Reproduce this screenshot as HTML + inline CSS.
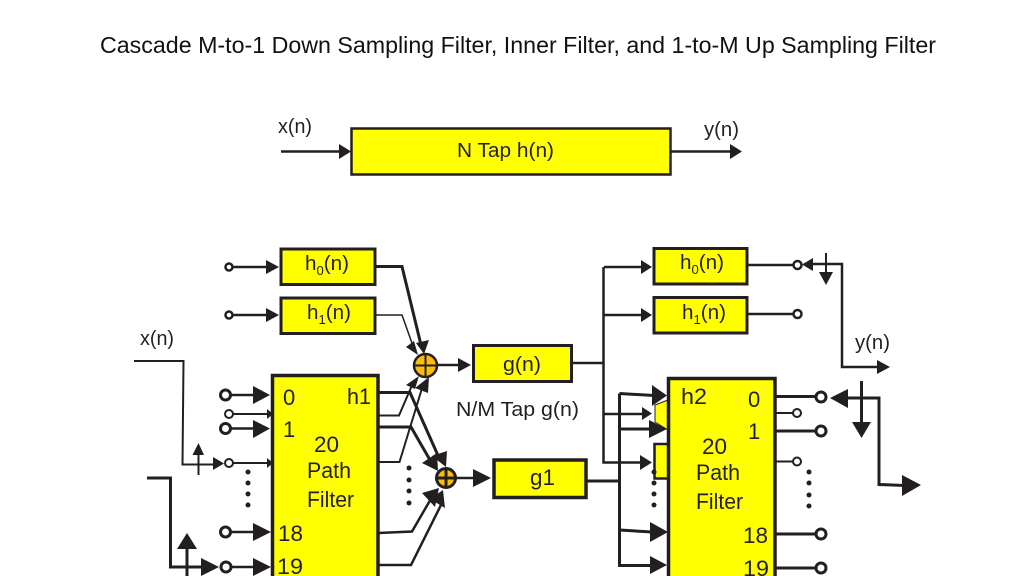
<!DOCTYPE html>
<html><head><meta charset="utf-8"><style>
html,body{margin:0;padding:0;background:#fff;width:1024px;height:576px;overflow:hidden}
svg{display:block}
.t{font-family:"Liberation Sans",sans-serif;font-size:22px;fill:#231f20}
.s{font-size:20.500px}
.r{fill:#ffff00;stroke:#231f20}
.l{fill:none;stroke:#231f20;stroke-linejoin:miter}
.a{fill:#231f20}
.c{fill:#fff;stroke:#231f20}
.d{fill:#231f20}
</style></head><body>
<svg width="1024" height="576" viewBox="0 0 1024 576" xmlns="http://www.w3.org/2000/svg">
<text x="100" y="53" font-family="Liberation Sans, sans-serif" font-size="23.500" fill="#111" textLength="836" lengthAdjust="spacingAndGlyphs">Cascade M-to-1 Down Sampling Filter, Inner Filter, and 1-to-M Up Sampling Filter</text>

<!-- top -->
<rect class="r" x="351.500" y="128.500" width="319" height="46" stroke-width="2.500"/>
<path class="l" stroke-width="2.500" d="M281 151.500H340M671 151.500H731"/>
<polygon class="a" points="339,144 351,151.500 339,159"/>
<polygon class="a" points="730,144 742,151.500 730,159"/>
<text class="t s" x="278" y="133" textLength="34" lengthAdjust="spacingAndGlyphs">x(n)</text>
<text class="t s" x="704" y="136" textLength="35" lengthAdjust="spacingAndGlyphs">y(n)</text>
<text class="t s" x="457" y="157" textLength="97" lengthAdjust="spacingAndGlyphs">N Tap h(n)</text>

<!-- left h0,h1 -->
<rect class="r" x="281" y="249" width="94" height="35.500" stroke-width="3"/>
<rect class="r" x="281" y="298" width="94" height="35.500" stroke-width="3"/>
<text class="t s" x="305" y="270" textLength="44" lengthAdjust="spacingAndGlyphs">h<tspan font-size="13" dy="5">0</tspan><tspan dy="-5">(n)</tspan></text>
<text class="t s" x="307" y="319" textLength="44" lengthAdjust="spacingAndGlyphs">h<tspan font-size="13" dy="5">1</tspan><tspan dy="-5">(n)</tspan></text>
<path class="l" stroke-width="2.500" d="M232 267H267M232 315H267"/>
<polygon class="a" points="266,260 279,267 266,274"/>
<polygon class="a" points="266,308 279,315 266,322"/>
<circle class="c" cx="229" cy="267" r="3.500" stroke-width="2.500"/>
<circle class="c" cx="229" cy="315" r="3.500" stroke-width="2.500"/>
<path class="l" stroke-width="3" d="M375 266.500H402L421 345"/>
<path class="l" stroke-width="1.500" d="M375 315H402L413 346"/>
<polygon class="a" points="406,347 414,341 418,355"/>
<polygon class="a" points="416,343 429,340 424,354"/>

<!-- left block -->
<rect class="r" x="272.500" y="375.500" width="105.500" height="220" stroke-width="3.500"/>
<text class="t" x="283" y="405">0</text>
<text class="t" x="283" y="437">1</text>
<text class="t" x="347" y="404" textLength="24" lengthAdjust="spacingAndGlyphs">h1</text>
<text class="t" x="314" y="452" textLength="25" lengthAdjust="spacingAndGlyphs">20</text>
<text class="t" x="307" y="478" textLength="44" lengthAdjust="spacingAndGlyphs">Path</text>
<text class="t" x="307" y="507" textLength="47" lengthAdjust="spacingAndGlyphs">Filter</text>
<text class="t" x="278" y="541" textLength="25" lengthAdjust="spacingAndGlyphs">18</text>
<text class="t" x="277" y="574" textLength="26" lengthAdjust="spacingAndGlyphs">19</text>

<!-- left inputs -->
<path class="l" stroke-width="2.500" d="M229 395H255M229 428.500H255M229 532H255M229 567H255"/>
<path class="l" stroke-width="2" d="M232 414H268M232 463H268"/>
<polygon class="a" points="253,386 270,395 253,404"/>
<polygon class="a" points="253,420 270,428.500 253,438"/>
<polygon class="a" points="253,523 271,532 253,541"/>
<polygon class="a" points="253,558 271,567 253,576"/>
<polygon class="a" points="267,409 273,414 267,419"/>
<polygon class="a" points="267,458 273,463 267,468"/>
<circle class="c" cx="225.500" cy="395" r="5" stroke-width="3"/>
<circle class="c" cx="229" cy="414" r="4" stroke-width="2"/>
<circle class="c" cx="225.500" cy="428.500" r="5" stroke-width="3"/>
<circle class="c" cx="229" cy="463" r="4" stroke-width="2"/>
<circle class="c" cx="225.500" cy="532" r="5" stroke-width="3"/>
<circle class="c" cx="226" cy="567" r="5" stroke-width="3"/>
<circle class="d" cx="248" cy="472" r="2.500"/><circle class="d" cx="248" cy="483" r="2.500"/><circle class="d" cx="248" cy="494" r="2.500"/><circle class="d" cx="248" cy="505" r="2.500"/>
<text class="t s" x="140" y="345" textLength="34" lengthAdjust="spacingAndGlyphs">x(n)</text>
<path class="l" stroke-width="2" d="M134 361H183.500L182.500 464.500H215"/>
<polygon class="a" points="213,457 224,463.500 213,470"/>
<path class="l" stroke-width="2" d="M198.500 475V450"/>
<polygon class="a" points="198.500,443 204,455 192.500,455"/>
<path class="l" stroke-width="3" d="M147 478H170.500V567H204"/>
<polygon class="a" points="201,558 219,567 201,576"/>
<path class="l" stroke-width="3" d="M187 576V545"/>
<polygon class="a" points="187,533 197,549 177,549"/>

<!-- left outputs -->
<path class="l" stroke-width="3" d="M379 392.500H410L440 460"/>
<path class="l" stroke-width="2" d="M379 415.500H399L413 383"/>
<path class="l" stroke-width="3" d="M379 427H411L430 460"/>
<path class="l" stroke-width="2" d="M379 462H399.500L423 385"/>
<path class="l" stroke-width="2.500" d="M379 533L412 531.500L432 497"/>
<path class="l" stroke-width="2.500" d="M379 565H411L441 505"/>
<polygon class="a" points="406,385 419,376 415,389"/>
<polygon class="a" points="415,388 429,377 428,393"/>
<polygon class="a" points="422,463 437,453 438,471"/>
<polygon class="a" points="432,456 447,451 446,467"/>
<polygon class="a" points="422,493 439,488 435,507"/>
<polygon class="a" points="430,499 443,490 445,508"/>
<circle class="d" cx="409" cy="468" r="2.500"/><circle class="d" cx="409" cy="480" r="2.500"/><circle class="d" cx="409" cy="491" r="2.500"/><circle class="d" cx="409" cy="503" r="2.500"/>

<!-- sums -->
<circle cx="425.500" cy="365.500" r="11.500" fill="#fcbc0c" stroke="#231f20" stroke-width="2.500"/>
<path class="l" stroke-width="2" d="M414 365.500H437M425.500 354V377"/>
<circle cx="446" cy="478" r="9.500" fill="#fcbc0c" stroke="#231f20" stroke-width="3"/>
<path class="l" stroke-width="3" d="M438 478H454M446 470V486"/>

<path class="l" stroke-width="2.500" d="M437 365H460"/>
<polygon class="a" points="458,358 471,365 458,372"/>
<path class="l" stroke-width="2.500" d="M456 478H475"/>
<polygon class="a" points="473,469 491,478 473,487"/>

<rect class="r" x="473.500" y="345.500" width="98" height="36" stroke-width="3"/>
<text class="t s" x="503" y="371" textLength="38" lengthAdjust="spacingAndGlyphs">g(n)</text>
<text class="t s" x="456" y="416" textLength="123" lengthAdjust="spacingAndGlyphs">N/M Tap g(n)</text>
<rect class="r" x="494" y="460" width="92" height="37.500" stroke-width="3.500"/>
<text class="t" x="530" y="485" textLength="25" lengthAdjust="spacingAndGlyphs">g1</text>

<!-- hidden yellow bits -->
<polygon points="668,400 655,405 655,422 668,430" fill="#ffff00" stroke="#231f20" stroke-width="1"/>
<rect x="654.500" y="444" width="14" height="34.500" fill="#ffff00" stroke="#231f20" stroke-width="2.500"/>

<!-- right bus -->
<path class="l" stroke-width="2.500" d="M572 363H603.500M603.500 267V462.500H643M604 267H642M604 315H642M604 414H643"/>
<polygon class="a" points="641,260 652,267 641,274"/>
<polygon class="a" points="641,308 652,315 641,322"/>
<polygon class="a" points="642,407 652,413.500 642,420"/>
<polygon class="a" points="640,455 652,462.500 640,470"/>

<path class="l" stroke-width="3" d="M587 481H619.500M619.500 393.500V565.500H652M619.500 393.500L654 395.500M619.500 429H652M619.500 530L652 532"/>
<polygon class="a" points="652,385 667,395.500 652,406"/>
<polygon class="a" points="649,420 667,429 649,438"/>
<polygon class="a" points="650,522 668,532 650,542"/>
<polygon class="a" points="650,556 667,565 650,574"/>
<circle class="d" cx="654" cy="472" r="2.500"/><circle class="d" cx="654" cy="483" r="2.500"/><circle class="d" cx="654" cy="494" r="2.500"/><circle class="d" cx="654" cy="505" r="2.500"/>

<!-- right block -->
<rect class="r" x="668.500" y="378.500" width="106.500" height="220" stroke-width="3.500"/>
<text class="t" x="681" y="404" textLength="26" lengthAdjust="spacingAndGlyphs">h2</text>
<text class="t" x="748" y="407">0</text>
<text class="t" x="748" y="439">1</text>
<text class="t" x="702" y="454" textLength="25" lengthAdjust="spacingAndGlyphs">20</text>
<text class="t" x="696" y="480" textLength="44" lengthAdjust="spacingAndGlyphs">Path</text>
<text class="t" x="696" y="509" textLength="47" lengthAdjust="spacingAndGlyphs">Filter</text>
<text class="t" x="743" y="543" textLength="25" lengthAdjust="spacingAndGlyphs">18</text>
<text class="t" x="743" y="576" textLength="26" lengthAdjust="spacingAndGlyphs">19</text>

<!-- right h0 h1 -->
<rect class="r" x="654" y="248.500" width="93" height="35.500" stroke-width="3"/>
<rect class="r" x="654" y="297.500" width="93" height="35.500" stroke-width="3"/>
<text class="t s" x="680" y="269" textLength="44" lengthAdjust="spacingAndGlyphs">h<tspan font-size="13" dy="5">0</tspan><tspan dy="-5">(n)</tspan></text>
<text class="t s" x="682" y="319" textLength="44" lengthAdjust="spacingAndGlyphs">h<tspan font-size="13" dy="5">1</tspan><tspan dy="-5">(n)</tspan></text>
<path class="l" stroke-width="2.500" d="M748 265H794M748 314H794"/>
<circle class="c" cx="797.500" cy="265" r="4" stroke-width="2.500"/>
<circle class="c" cx="797.500" cy="314" r="4" stroke-width="2.500"/>
<polygon class="a" points="802,264.500 813,258 813,271"/>
<path class="l" stroke-width="2.500" d="M812 264H842V367H879"/>
<polygon class="a" points="877,360 890,367 877,374"/>
<text class="t s" x="855" y="349" textLength="35" lengthAdjust="spacingAndGlyphs">y(n)</text>
<path class="l" stroke-width="2" d="M826 253V275"/>
<polygon class="a" points="819,272 833,272 826,285"/>

<!-- right outputs -->
<path class="l" stroke-width="3" d="M776 396.500H816M776 431H816M776 534H816M776 568H816"/>
<path class="l" stroke-width="2" d="M776 413H793M776 461.500H793"/>
<circle class="c" cx="821" cy="397" r="5" stroke-width="3"/>
<circle class="c" cx="797" cy="413" r="4" stroke-width="2"/>
<circle class="c" cx="821" cy="431" r="5" stroke-width="3"/>
<circle class="c" cx="797" cy="461.500" r="4" stroke-width="2"/>
<circle class="c" cx="821" cy="534" r="5" stroke-width="3"/>
<circle class="c" cx="821" cy="568" r="5" stroke-width="3"/>
<circle class="d" cx="809" cy="472" r="2.500"/><circle class="d" cx="809" cy="483" r="2.500"/><circle class="d" cx="809" cy="495" r="2.500"/><circle class="d" cx="809" cy="506" r="2.500"/>
<polygon class="a" points="830,398 848,389 848,408"/>
<path class="l" stroke-width="3" d="M846 398H879V484.500L905 485.500"/>
<polygon class="a" points="902,475 921,485 902,496"/>
<path class="l" stroke-width="3" d="M861.500 381V424"/>
<polygon class="a" points="852,422 871,422 861.500,438"/>
</svg>
</body></html>
